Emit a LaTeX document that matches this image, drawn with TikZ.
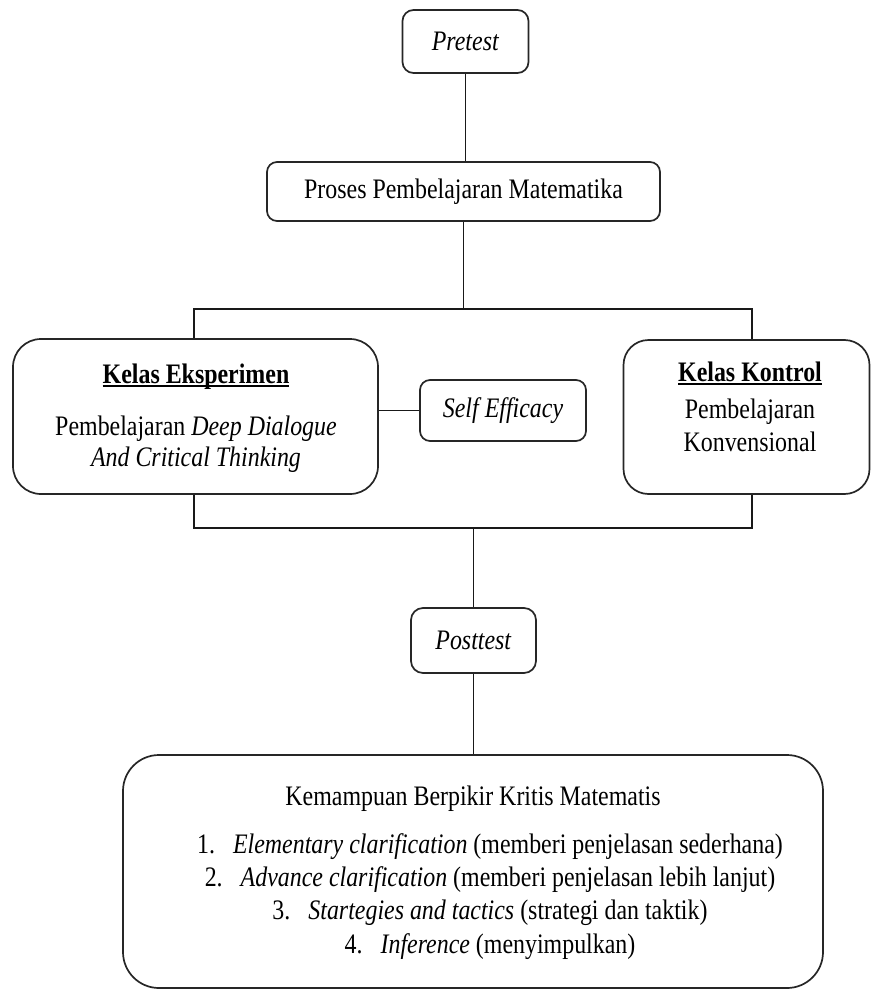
\documentclass[tikz,border=0pt]{standalone}
\usepackage{fontspec}
\setmainfont{Liberation Serif}
\newsavebox{\myulbox}
\newcommand{\myuline}[1]{\sbox{\myulbox}{#1}\rlap{\rule[-3.5bp]{\wd\myulbox}{1.8bp}}\usebox{\myulbox}}
\newcommand{\tx}[1]{\scalebox{1}[1.18]{#1}}
\begin{document}
\begin{tikzpicture}[x=1bp,y=-1bp,
  font=\fontsize{24}{31}\selectfont,
  rbox/.style={draw=black!85, line width=1.7bp, rounded corners=#1, inner sep=0pt, fill=white},
  rbox/.default=10bp,
  txt/.style={inner sep=0pt, align=center},
  conn/.style={draw=black!90, line width=1.7bp}]
\useasboundingbox (0,0) rectangle (871,990);
% connector coordinates
\coordinate (tl) at (194,309);
\coordinate (tr) at (752,309);
\coordinate (bl) at (194,528);
\coordinate (br) at (752,528);
% boxes
\node[rbox=11bp, minimum width=126bp, minimum height=63bp] (pre) at (465.5,41.5) {\tx{\textit{Pretest}}};
\node[rbox=10bp, minimum width=393bp, minimum height=59bp] (pro) at (463.5,191.5) {\tx{Proses Pembelajaran Matematika}};
\node[rbox=28bp, minimum width=365bp, minimum height=155bp] (L) at (195.5,416.5) {};
\node[rbox=10bp, minimum width=166bp, minimum height=61bp] (se) at (503,410.5) {\tx{\textit{Self Efficacy}}};
\node[rbox=25bp, minimum width=246bp, minimum height=154bp] (R) at (746.5,417) {};
\node[rbox=12bp, minimum width=125bp, minimum height=65bp] (post) at (473.5,640.5) {\tx{\textit{Posttest}}};
\node[rbox=36bp, minimum width=700bp, minimum height=233bp] (bot) at (473,871.5) {};
% texts inside the large boxes
\node[txt] (Lt) at (196,417.9) {\tx{\myuline{\textbf{Kelas Eksperimen}}}\\[21bp] \tx{Pembelajaran \textit{Deep Dialogue}}\\ \tx{\textit{And Critical Thinking}}};
\node[txt] (Rt) at (750,406.5) {\tx{\myuline{\textbf{Kelas Kontrol}}}\\[6bp] \tx{Pembelajaran}\\[2bp] \tx{Konvensional}};
\node[inner sep=0pt, anchor=base] (bt) at (473,805) {\tx{Kemampuan Berpikir Kritis Matematis}};
\node[txt, font=\fontsize{24}{33.3}\selectfont] (bl1) at (490,896.4) {%
\tx{1.\hspace{18bp}\textit{Elementary clarification} (memberi penjelasan sederhana)}\\
\tx{2.\hspace{18bp}\textit{Advance clarification} (memberi penjelasan lebih lanjut)}\\
\tx{3.\hspace{18bp}\textit{Startegies and tactics} (strategi dan taktik)}\\
\tx{4.\hspace{18bp}\textit{Inference} (menyimpulkan)}};
% connectors
\draw[conn] (pre.south) -- (pre.south |- pro.north);
\draw[conn] (pro.south) -- (pro.south |- tl);
\draw[conn] (tl |- L.north) -- (tl) -- (tr) -- (tr |- R.north);
\draw[conn] (bl |- L.south) -- (bl) -- (br) -- (br |- R.south);
\draw[conn] (post.north) -- (post.north |- bl);
\draw[conn] (post.south) -- (post.south |- bot.north);
\draw[conn] (L.east |- se.west) -- (se.west);
\end{tikzpicture}
\end{document}
